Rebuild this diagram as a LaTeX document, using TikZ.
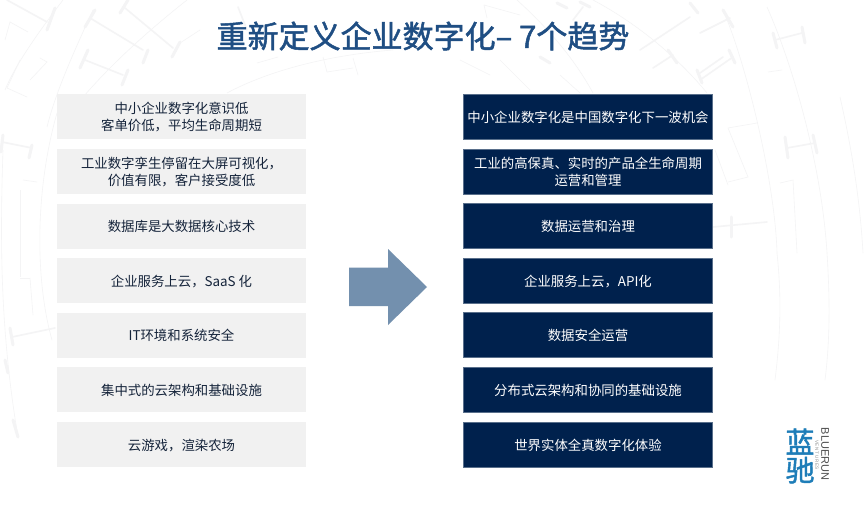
\documentclass[tikz,border=0pt]{standalone}
\usepackage{fontspec}
\setmainfont{Noto Sans CJK SC}
\newfontfamily\titlefont[FakeBold=1.6]{Noto Sans CJK SC}
\newfontfamily\latinlogo{Liberation Sans}
\newfontfamily\logofont[FakeBold=1.5]{Noto Sans CJK SC}
\definecolor{titleblue}{HTML}{1F4E83}
\definecolor{navy}{HTML}{00214D}
\definecolor{paleg}{HTML}{F1F1F1}
\definecolor{inkdark}{HTML}{14233A}
\definecolor{arrowb}{HTML}{7390AE}
\definecolor{logob}{HTML}{1E7DB8}
\definecolor{faint}{HTML}{F4F4F5}
\newcommand\Dn[1]{\raisebox{0pt}[\dimexpr\height+5pt\relax][\depth]{\begin{tabular}{@{}c@{}}#1\end{tabular}}}
\tikzset{
 x=1pt,y=-1pt,
 box/.style={minimum width=249pt,minimum height=45pt,inner sep=0pt,align=center,font=\fontsize{13.4}{17}\selectfont,anchor=center},
 before/.style={box,fill=paleg,text=inkdark},
 after/.style={box,fill=navy,text=white,draw=navy!65!white,line width=.4pt},
 bgthin/.style={draw=faint,line width=.6pt},
 bgbar/.style={draw=faint,line width=1.6pt,line cap=round},
 bgcap/.style={draw=faint,line width=3pt,line cap=round},
}
\begin{document}
\begin{tikzpicture}
\useasboundingbox (0,0) rectangle (864,508);
\fill[white] (0,0) rectangle (864,508);
% faint background: arcs
\draw[bgthin] (63,0) .. controls (40,30) and (15,65) .. (5,90);
\draw[bgthin] (93,10) .. controls (70,60) and (55,95) .. (47,127);
\draw[bgthin] (187,0) .. controls (130,45) and (85,90) .. (60,127);
\draw[bgthin] (57,113) .. controls (35,190) and (35,280) .. (52,340);
\draw[bgthin] (3,150) .. controls (0,240) and (0,330) .. (18,437);
\draw[bgthin] (20,190) -- (20,277);
\draw[bgthin] (227,93) .. controls (270,70) and (330,55) .. (393,50);
\draw[bgthin] (517,0) .. controls (550,30) and (575,60) .. (593,93);
\draw[bgthin] (593,0) .. controls (640,25) and (680,60) .. (707,93);
\draw[bgthin] (723,10) .. controls (745,60) and (775,180) .. (777,253);
\draw[bgthin] (767,7) .. controls (795,70) and (822,170) .. (827,253);
\draw[bgthin] (840,97) .. controls (852,150) and (860,200) .. (863,253);
\draw[bgthin] (777,253) .. controls (782,300) and (780,340) .. (775,380);
\draw[bgthin] (827,253) .. controls (830,300) and (830,340) .. (825,380);
% faint background: stems
\foreach \xa/\ya/\xb/\yb in {
 7/0/47/22, 90/18/143/50, 85/60/123/75, 125/8/173/48, 2/142/32/148, 12/337/55/328,
 238/7/247/30, 640/50/690/17, 653/68/673/55, 700/73/723/57, 583/7/573/20,
 700/33/730/18, 700/80/733/57, 775/40/802/33, 787/148/815/143, 713/227/767/222}{
 \draw[bgbar] (\xa,\ya) -- (\xb,\yb);
}
\foreach \xa/\ya/\xb/\yb in {
 55/8/47/30, 95/10/85/27, 148/50/143/63, 88/50/80/68, 128/70/122/85, 128/0/120/13, 180/42/172/57,
 3/135/1/152, 32/145/29/158, 10/328/13/345, 5/360/8/373, 13/420/18/437,
 557/3/567/8, 580/2/590/7, 540/57/550/63, 690/3/698/13, 668/50/677/63, 697/70/702/83,
 723/10/733/27, 729/50/735/63, 773/33/777/48, 802/27/805/43, 785/137/788/158, 813/135/817/153, 731/217/731/237}{
 \draw[bgcap] (\xa,\ya) -- (\xb,\yb);
}
\foreach \xa/\ya/\xb/\yb in {
 10/22/28/32, 7/88/27/97, 40/58/47/62, 10/22/5/40, 47/62/30/80, 7/88/20/60,
 23/180/37/182, 20/278/30/278, 30/278/33/315,
 180/43/200/30, 257/63/278/57, 323/57/327/72, 327/72/353/68, 353/58/358/75,
 484/5/520/15, 484/5/487/18, 460/60/490/75, 500/60/530/90, 560/75/580/93,
 768/72/782/70, 780/183/793/180, 728/128/748/177, 728/128/757/123, 748/177/728/182,
 715/150/728/185, 793/180/797/253}{
 \draw[bgthin] (\xa,\ya) -- (\xb,\yb);
}
\node[font=\titlefont\fontsize{31}{34}\selectfont,text=titleblue,anchor=center] (title) at (423,36) {重新定义企业数字化– 7个趋势};
\node[before] (l1) at (181.5,116.5) {\Dn{中小企业数字化意识低\\客单价低，平均生命周期短}};
\node[before] (l2) at (181.5,171.5) {\Dn{工业数字孪生停留在大屏可视化，\\价值有限，客户接受度低}};
\node[before] (l3) at (181.5,226) {\Dn{数据库是大数据核心技术}};
\node[before] (l4) at (181.5,280.5) {\Dn{企业服务上云，SaaS 化}};
\node[before] (l5) at (181.5,335) {\Dn{IT环境和系统安全}};
\node[before] (l6) at (181.5,389.5) {\Dn{集中式的云架构和基础设施}};
\node[before] (l7) at (181.5,444.5) {\Dn{云游戏，渲染农场}};
\node[after] (r1) at (588,116.5) {\Dn{中小企业数字化是中国数字化下一波机会}};
\node[after] (r2) at (588,171.5) {\Dn{工业的高保真、实时的产品全生命周期\\运营和管理}};
\node[after] (r3) at (588,226) {\Dn{数据运营和治理}};
\node[after] (r4) at (588,280.5) {\Dn{企业服务上云，API化}};
\node[after] (r5) at (588,335) {\Dn{数据安全运营}};
\node[after] (r6) at (588,389.5) {\Dn{分布式云架构和协同的基础设施}};
\node[after] (r7) at (588,444.5) {\Dn{世界实体全真数字化体验}};
\fill[arrowb] (349,267.5) -- (388,267.5) -- (388,249) -- (427,287) -- (388,325) -- (388,306) -- (349,306) -- cycle;
\node[font=\logofont\fontsize{29}{28}\selectfont,text=logob,align=center,inner sep=0pt] (logo) at (800,456) {蓝\\驰};
\node[font=\latinlogo\fontsize{11}{11}\selectfont,text=black!70,rotate=-90,inner sep=0pt] (blue) at (825,454) {BLUERUN};
\node[font=\latinlogo\fontsize{4.5}{5}\selectfont,text=black!45,rotate=-90,inner sep=0pt] (vent) at (817,455) {V\,E\,N\,T\,U\,R\,E\,S};
\end{tikzpicture}
\end{document}
